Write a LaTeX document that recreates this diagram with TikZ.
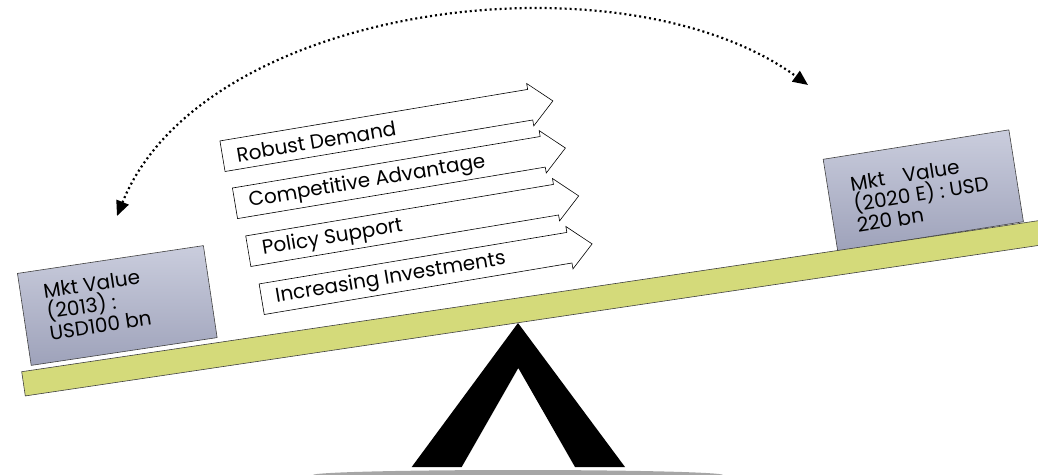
\documentclass[tikz,border=0pt]{standalone}
\usepackage{fontspec}
\setmainfont{Poppins}
\usetikzlibrary{arrows.meta}
\definecolor{plankfill}{RGB}{212,218,122}
\definecolor{boxtop}{RGB}{202,205,221}
\definecolor{boxbot}{RGB}{158,162,186}
\definecolor{basegray}{RGB}{166,166,166}
\begin{document}
\begin{tikzpicture}[x=1pt,y=-1pt,
  valuebox/.style={draw=black!75, line width=0.6pt, top color=boxtop, bottom color=boxbot,
    minimum width=188pt, minimum height=93pt, inner sep=0pt, transform shape},
  boxtext/.style={inner sep=0pt, align=left, anchor=west, transform shape,
    font=\fontsize{20}{21}\selectfont},
  plankstyle/.style={draw=black!75, line width=0.6pt, fill=plankfill},
  flowarrow/.style={draw=black, line width=0.6pt, fill=white},
  arrowtext/.style={font=\fontsize{20}{20}\selectfont, anchor=west, inner sep=0pt, transform shape},
  dotarc/.style={line width=2.2pt, dash pattern=on 2pt off 3pt,
    {Triangle[length=15pt,width=13pt]}-{Triangle[length=15pt,width=13pt]}}
]
\useasboundingbox (0,0) rectangle (1038,474);

% base and fulcrum
\fill[basegray] (518,475) ellipse [x radius=205, y radius=5];
\fill[black] (518,323) -- (411.7,467) -- (461.7,467) -- (518.3,368) -- (575,467) -- (625,467) -- cycle;

% value boxes
\begin{scope}[shift={(117.3,305.5)}, rotate=8.5]
  \node[valuebox] (lbox) at (0,0) {};
  \node[boxtext] (ltext) at (-71,-4) {Mkt Value\\(2013) :\\USD100 bn};
\end{scope}
\begin{scope}[shift={(923.3,190.5)}, rotate=9]
  \node[valuebox] (rbox) at (0,0) {};
  \node[boxtext] (rtext) at (-71,3) {Mkt\hspace{18pt}Value\\(2020 E) : USD\\220 bn};
\end{scope}

% plank
\begin{scope}[shift={(21.7,371.7)}, rotate=8.45]
  \draw[plankstyle] (0,0) rectangle (1040,24.5);
\end{scope}

% driver arrows
\begin{scope}[shift={(222.5,156.2)}, rotate=9.5]
  \draw[flowarrow] (0,-15.5) -- (312,-15.5) -- (312,-21.5) -- (335,0) -- (312,21.5) -- (312,15.5) -- (0,15.5) -- cycle;
  \node[arrowtext] (t1) at (14,1) {Robust Demand};
\end{scope}
\begin{scope}[shift={(235,203.3)}, rotate=9.5]
  \draw[flowarrow] (0,-15.5) -- (312,-15.5) -- (312,-21.5) -- (335,0) -- (312,21.5) -- (312,15.5) -- (0,15.5) -- cycle;
  \node[arrowtext] (t2) at (14,1) {Competitive Advantage};
\end{scope}
\begin{scope}[shift={(248.3,251.2)}, rotate=9.5]
  \draw[flowarrow] (0,-15.5) -- (312,-15.5) -- (312,-21.5) -- (335,0) -- (312,21.5) -- (312,15.5) -- (0,15.5) -- cycle;
  \node[arrowtext] (t3) at (14,1) {Policy Support};
\end{scope}
\begin{scope}[shift={(261.7,299.2)}, rotate=9.5]
  \draw[flowarrow] (0,-15.5) -- (312,-15.5) -- (312,-21.5) -- (335,0) -- (312,21.5) -- (312,15.5) -- (0,15.5) -- cycle;
  \node[arrowtext] (t4) at (14,1) {Increasing Investments};
\end{scope}

% dotted double arrow
\coordinate (dL) at (117,216);
\coordinate (dR) at (808,85);
\draw[dotarc] (dL) .. controls (203,2.8) and (622,-50.2) .. (dR);
\end{tikzpicture}
\end{document}
